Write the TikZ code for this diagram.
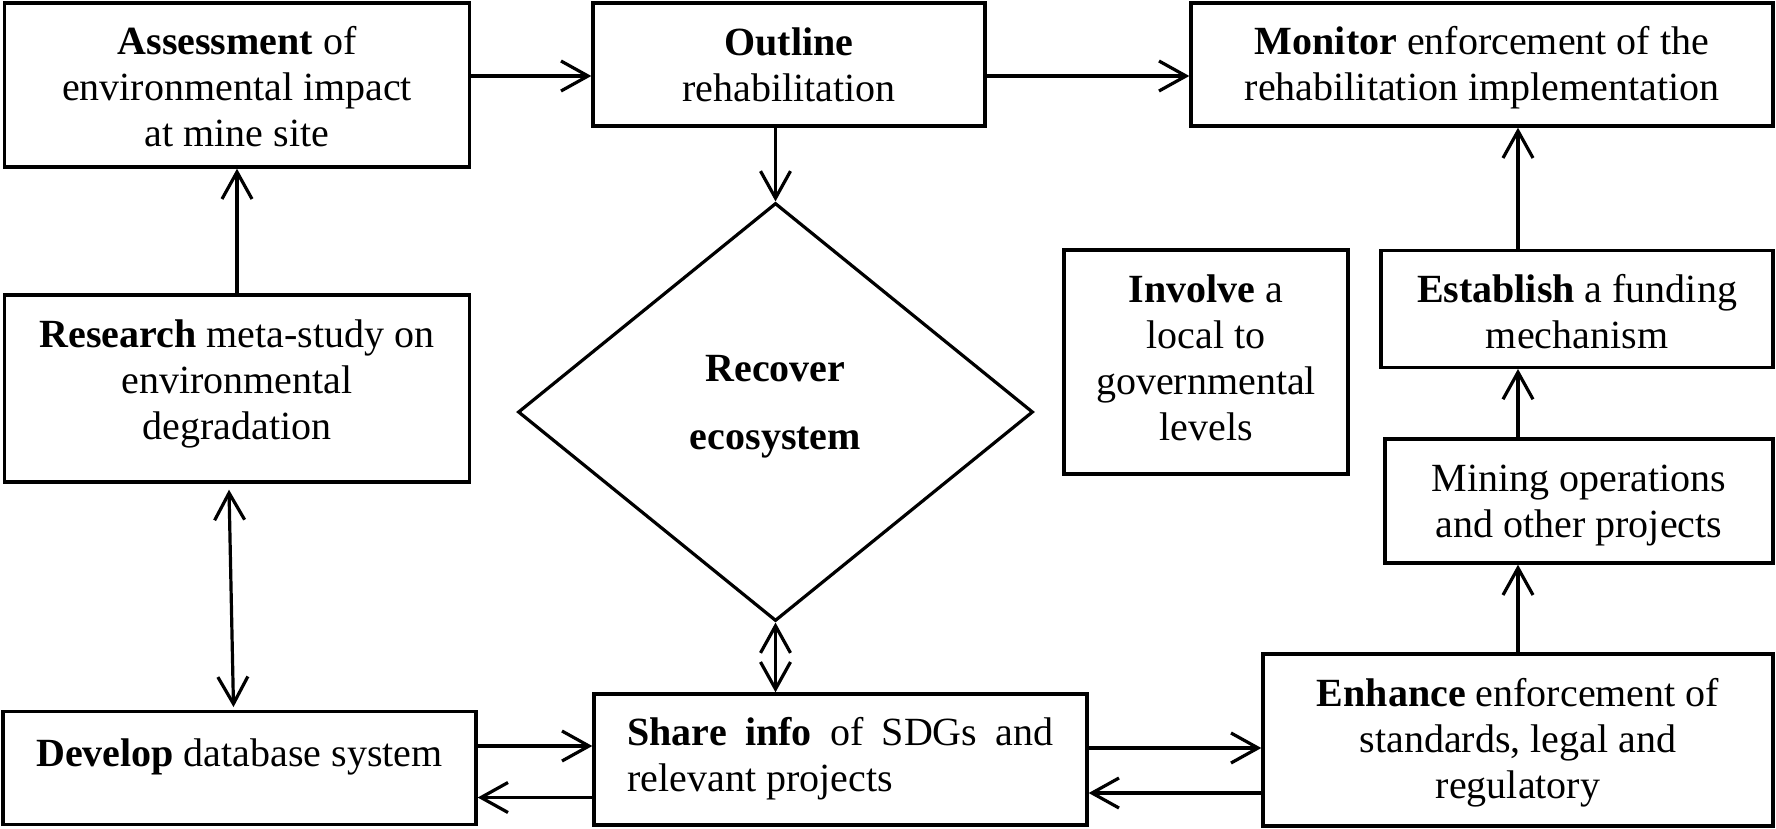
\documentclass[tikz,border=0pt]{standalone}
\usepackage{fontspec}
\setmainfont{Liberation Serif}
\usetikzlibrary{arrows.meta,shapes.geometric,calc}
% first baseline placed #1 above the node centre
\newcommand\btext[2]{\raisebox{#1}[0pt][0pt]{\begin{tabular}[t]{@{}c@{}}#2\end{tabular}}}
\newcommand\jtext[3]{\raisebox{#1}[0pt][0pt]{\parbox[t]{#2}{#3}}}
\tikzset{
  box/.style={draw, line width=1.7pt, align=center, inner sep=0pt,
    font=\fontsize{20}{23}\selectfont},
  arr/.style={line width=1.6pt, -{Straight Barb[length=13.5pt,width=15pt]}},
  dbl/.style={line width=1.6pt, {Straight Barb[length=13.5pt,width=15pt]}-{Straight Barb[length=13.5pt,width=15pt]}},
}
\begin{document}
\begin{tikzpicture}[x=0.5pt,y=-0.5pt]
\useasboundingbox (0,0) rectangle (1776,829);
\node[box, minimum width=232.5pt, minimum height=82pt] (assess) at (237,85)
  {\btext{15pt}{\textbf{Assessment} of\\environmental impact\\at mine site}};
\node[box, minimum width=196pt, minimum height=61.5pt] (outline) at (789,64.5)
  {\btext{4.25pt}{\textbf{Outline}\\rehabilitation}};
\node[box, minimum width=291pt, minimum height=61.5pt] (monitor) at (1482,64.5)
  {\btext{4.75pt}{\textbf{Monitor} enforcement of the\\rehabilitation implementation}};
\node[box, minimum width=232.5pt, minimum height=93.5pt] (research) at (237,388.5)
  {\btext{20.75pt}{\textbf{Research} meta-study on\\environmental\\degradation}};
\node[box, minimum width=236.5pt, minimum height=56.25pt] (develop) at (239.5,768)
  {\btext{0.65pt}{\textbf{Develop} database system}};
\node[box, minimum width=246.5pt, minimum height=65.5pt] (share) at (840.5,759.5)
  {\jtext{7.25pt}{213pt}{\textbf{Share info} of SDGs and relevant projects}};
\node[box, minimum width=255pt, minimum height=86pt] (enhance) at (1518,740)
  {\btext{16.75pt}{\textbf{Enhance} enforcement of\\standards, legal and\\regulatory}};
\node[box, minimum width=194pt, minimum height=62pt] (mining) at (1579,501)
  {\btext{5pt}{Mining operations\\and other projects}};
\node[box, minimum width=196pt, minimum height=58.25pt] (establish) at (1577,309)
  {\btext{3.2pt}{\textbf{Establish} a funding\\mechanism}};
\node[box, minimum width=142pt, minimum height=112pt] (involve) at (1206,362)
  {\btext{29.7pt}{\textbf{Involve} a\\local to\\governmental\\levels}};
\node[draw, diamond, line width=1.6pt, minimum width=257.5pt, minimum height=209pt, inner sep=0pt,
  font=\fontsize{20}{34}\selectfont\bfseries] (diamond) at (775.5,412)
  {\btext{15.15pt}{Recover\\ecosystem}};

\draw[arr] ([yshift=4.5pt]assess.east) -- ([yshift=4.5pt]assess.east -| outline.west);
\draw[arr] ([yshift=-5.75pt]outline.east) -- ([yshift=-5.75pt]outline.east -| monitor.west);
\draw[arr] (diamond.north |- outline.south) -- (diamond.north);
\draw[arr] (research.north) -- (assess.south);
\draw[dbl] ([xshift=-4pt,yshift=-3pt]research.south) -- ([xshift=-3pt,yshift=1.5pt]develop.north);
\draw[arr] ([yshift=11pt]develop.east) -- ([yshift=11pt]develop.east -| share.west);
\draw[arr] ([yshift=-14.75pt]develop.east -| share.west) -- ([yshift=-14.75pt]develop.east);
\draw[dbl] (diamond.south) -- (diamond.south |- share.north);
\draw[arr] ([yshift=5.75pt]share.east) -- ([yshift=5.75pt]share.east -| enhance.west);
\draw[arr] ([yshift=-16.75pt]share.east -| enhance.west) -- ([yshift=-16.75pt]share.east);
\draw[arr] (enhance.north) -- (enhance.north |- mining.south);
\draw[arr] (enhance.north |- mining.north) -- (enhance.north |- establish.south);
\draw[arr] (enhance.north |- establish.north) -- (enhance.north |- monitor.south);
\end{tikzpicture}
\end{document}
